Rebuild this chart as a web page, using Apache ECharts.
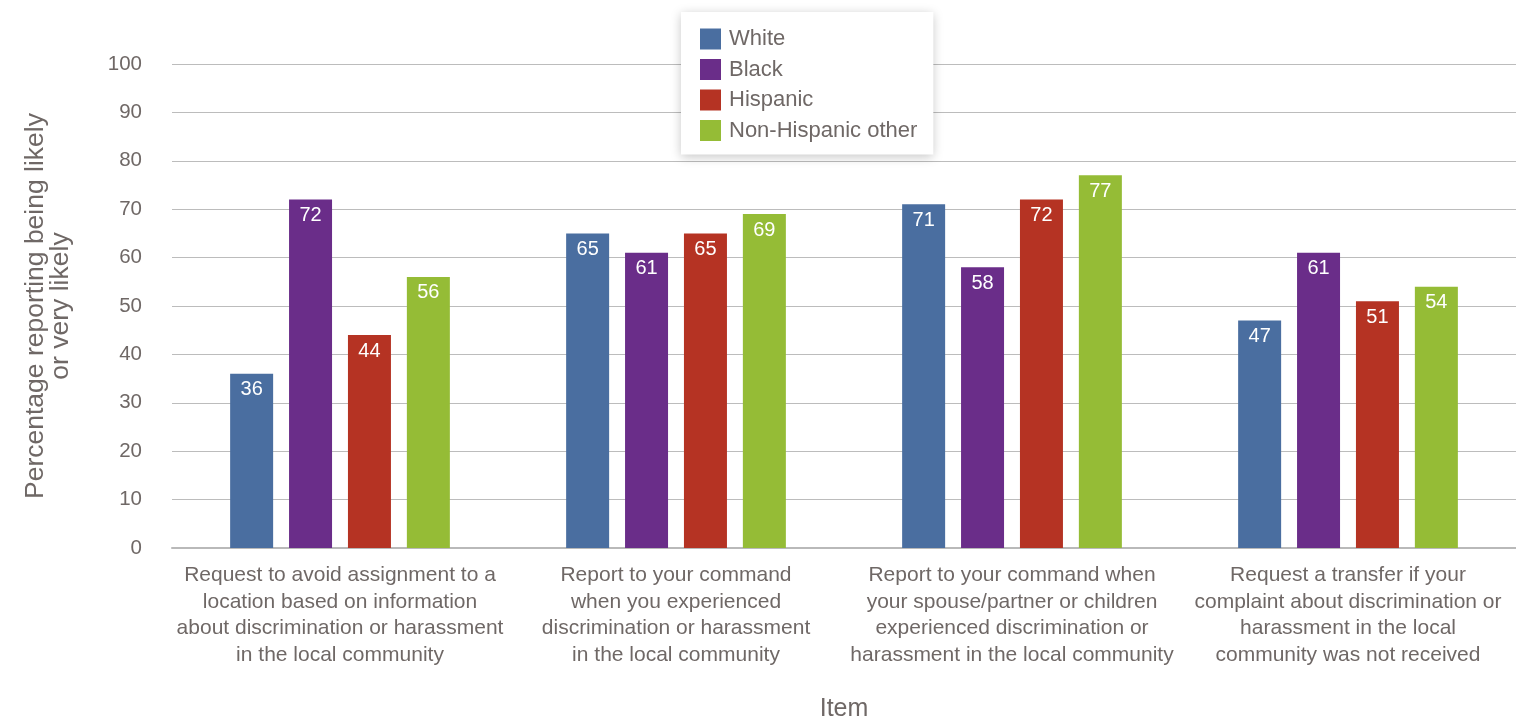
<!DOCTYPE html>
<html>
<head>
<meta charset="utf-8">
<script src="https://cdn.jsdelivr.net/npm/echarts@6/dist/echarts.min.js"></script>
<style>
  html, body { margin: 0; padding: 0; background: #fff; }
  #chart { width: 1516px; height: 718px; }
</style>
</head>
<body>
<div id="chart"></div>
<script>
// Survey items (x-axis categories)
const categories = [
  'Request to avoid assignment to a\nlocation based on information\nabout discrimination or harassment\nin the local community',
  'Report to your command\nwhen you experienced\ndiscrimination or harassment\nin the local community',
  'Report to your command when\nyour spouse/partner or children\nexperienced discrimination or\nharassment in the local community',
  'Request a transfer if your\ncomplaint about discrimination or\nharassment in the local\ncommunity was not received'
];

// Percentages by group
const white = [36, 65, 71, 47];
const black = [72, 61, 58, 61];
const hispanic = [44, 65, 72, 51];
const nonHispanicOther = [56, 69, 77, 54];

const seriesNames = ['White', 'Black', 'Hispanic', 'Non-Hispanic other'];
const colors = ['#4a6ea0', '#6a2d89', '#b53323', '#95bc36'];

const yTicks = { min: 0, max: 100, interval: 10 };

const textColor = '#6f6866';
const font = '"Liberation Sans", Arial, sans-serif';

const seriesData = [white, black, hispanic, nonHispanicOther];

const chart = echarts.init(document.getElementById('chart'));
chart.setOption({
  animation: false,
  textStyle: { fontFamily: font, color: textColor },
  grid: { left: 172, right: 0, top: 64, bottom: 170, containLabel: false, outerBoundsMode: 'none' },
  legend: {
    orient: 'vertical',
    left: 681,
    top: 12,
    padding: [16, 16, 13, 19],
    itemWidth: 21,
    itemHeight: 21,
    itemGap: 8.5,
    icon: 'rect',
    backgroundColor: '#ffffff',
    shadowColor: 'rgba(0,0,0,0.22)',
    shadowBlur: 10,
    shadowOffsetY: 2,
    textStyle: { fontSize: 22, color: textColor, fontFamily: font, padding: [0, 0, 0, 3] },
    data: seriesNames
  },
  xAxis: {
    type: 'category',
    data: categories,
    name: 'Item',
    nameLocation: 'middle',
    nameGap: 149,
    nameTextStyle: { fontSize: 25, color: textColor },
    axisTick: { show: false },
    axisLine: { lineStyle: { color: '#b9b9b9', width: 2 } },
    axisLabel: {
      interval: 0,
      fontSize: 21,
      lineHeight: 26.5,
      color: textColor,
      margin: 14
    }
  },
  yAxis: {
    type: 'value',
    min: yTicks.min,
    max: yTicks.max,
    interval: yTicks.interval,
    name: 'Percentage reporting being likely\nor very likely',
    nameLocation: 'middle',
    nameGap: 99,
    nameTextStyle: { fontSize: 26.5, color: textColor, lineHeight: 25 },
    axisLine: { show: false },
    axisTick: { show: false },
    axisLabel: { fontSize: 20.5, color: textColor, margin: 30 },
    splitLine: { lineStyle: { color: '#bcbcbc', width: 1 } }
  },
  series: seriesData.map((d, i) => ({
    name: seriesNames[i],
    type: 'bar',
    data: d,
    barWidth: 43,
    barGap: '37%',
    itemStyle: { color: colors[i] },
    label: {
      show: true,
      position: 'insideTop',
      distance: 6,
      color: '#ffffff',
      fontSize: 20,
      fontFamily: font
    }
  }))
});
</script>
</body>
</html>
